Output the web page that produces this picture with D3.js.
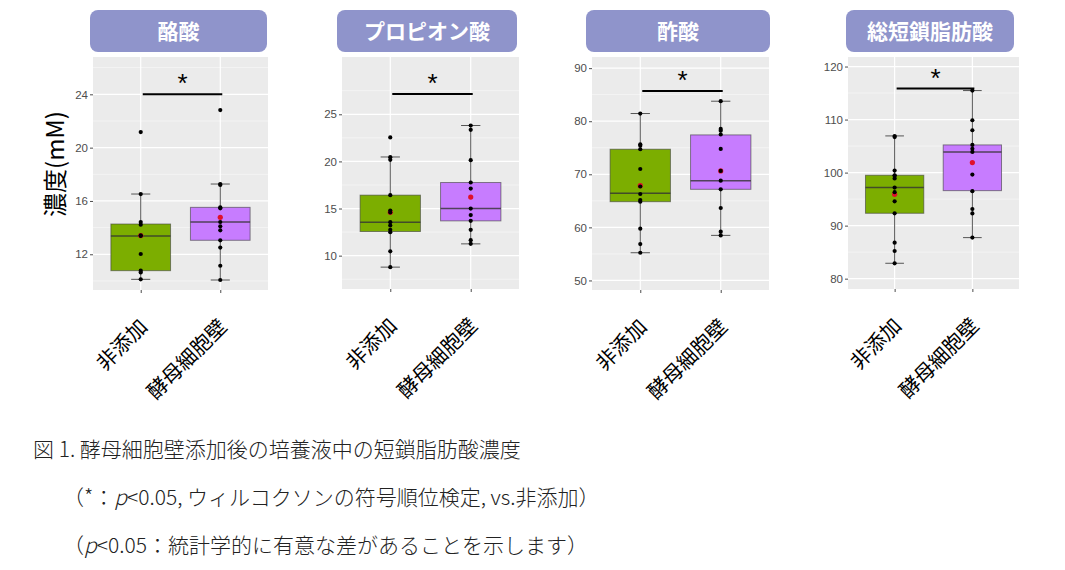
<!DOCTYPE html>
<html><head><meta charset="utf-8">
<script src="https://cdn.jsdelivr.net/npm/d3@7"></script>
<style>
body{margin:0;background:#fff;}
svg{display:block;}
</style></head>
<body>
<svg id="c" width="1065" height="570"></svg>
<script>
// ---- data ----
const titles = ["酪酸", "プロピオン酸", "酢酸", "総短鎖脂肪酸"];
const groups = ["非添加", "酵母細胞壁"];
// box stats: [lower whisker, Q1, median, Q3, upper whisker]
const butyricBox = [[10.12, 10.77, 13.37, 14.27, 16.52], [10.07, 13.05, 14.42, 15.52, 17.27]];
const butyricPts = [[21.17, 16.52, 14.42, 14.22, 13.42, 13.37, 12.02, 10.77, 10.64, 10.12],
                    [22.82, 17.27, 17.2, 15.52, 15.45, 14.42, 14.1, 13.8, 13.05, 12.5, 11.14, 10.07]];
const butyricMean = [13.4, 14.77];
const butyricTicks = [12, 16, 20, 24];
const butyricDomain = [9.32, 26.8];
const butyricSig = 24.0;

const propionicBox = [[8.78, 12.56, 13.55, 16.42, 20.47], [11.25, 13.69, 15.0, 17.76, 23.81]];
const propionicPts = [[22.54, 20.45, 20.17, 16.42, 14.79, 14.58, 13.55, 13.2, 12.74, 12.49, 10.46, 8.78],
                      [23.81, 23.35, 20.13, 17.76, 17.12, 15.0, 14.3, 13.69, 12.74, 11.64, 11.25]];
const propionicMean = [14.6, 16.21];
const propionicTicks = [10, 15, 20, 25];
const propionicDomain = [6.46, 31.08];
const propionicSig = 27.15;

const aceticBox = [[55.22, 64.84, 66.42, 74.72, 81.45], [58.49, 67.17, 68.8, 77.42, 83.77]];
const aceticPts = [[81.45, 75.66, 75.4, 74.72, 71.0, 67.7, 66.29, 65.16, 64.84, 59.75, 56.85, 55.22],
                   [83.77, 78.55, 78.2, 77.5, 74.78, 70.63, 68.8, 67.17, 63.65, 59.18, 58.49]];
const aceticMean = [67.86, 70.63];
const aceticTicks = [50, 60, 70, 80, 90];
const aceticDomain = [48.2, 92.1];
const aceticSig = 85.7;

const totalBox = [[82.9, 92.33, 97.17, 99.5, 106.92], [87.74, 96.6, 103.9, 105.22, 115.47]];
const totalPts = [[106.9, 106.7, 100.38, 99.5, 99.4, 98.9, 97.17, 96.3, 94.59, 92.33, 86.79, 85.22, 82.9],
                  [115.47, 109.87, 107.99, 105.22, 104.5, 103.9, 99.62, 96.5, 93.14, 92.3, 87.74]];
const totalMean = [95.9, 101.89];
const totalTicks = [80, 90, 100, 110, 120];
const totalDomain = [78.05, 121.8];
const totalSig = 115.85;

const yLabel = "濃度(mM)";
const captionLines = [
  [{t: "図 1. 酵母細胞壁添加後の培養液中の短鎖脂肪酸濃度"}],
  [{t: "（*：", i: false}, {t: "p", i: true}, {t: "<0.05,  ウィルコクソンの符号順位検定, vs.非添加）"}],
  [{t: "（", i: false}, {t: "p", i: true}, {t: "<0.05：統計学的に有意な差があることを示します）"}]
];

// ---- layout ----
const datasets = [
  {box: butyricBox, pts: butyricPts, mean: butyricMean, ticks: butyricTicks, domain: butyricDomain, sig: butyricSig},
  {box: propionicBox, pts: propionicPts, mean: propionicMean, ticks: propionicTicks, domain: propionicDomain, sig: propionicSig},
  {box: aceticBox, pts: aceticPts, mean: aceticMean, ticks: aceticTicks, domain: aceticDomain, sig: aceticSig},
  {box: totalBox, pts: totalPts, mean: totalMean, ticks: totalTicks, domain: totalDomain, sig: totalSig}
];
const plotRects = [
  {x0: 93, x1: 268, y0: 57, y1: 290},
  {x0: 342, x1: 519, y0: 57, y1: 289},
  {x0: 592, x1: 769, y0: 57, y1: 290},
  {x0: 848, x1: 1019, y0: 57, y1: 289}
];
const titleRects = [
  {x0: 90, x1: 267}, {x0: 337, x1: 517}, {x0: 586, x1: 770}, {x0: 846, x1: 1014}
];
const fills = ["#7CAE00", "#C77CFF"];
const JP = "'Noto Sans CJK JP', 'Noto Sans', sans-serif";

const svg = d3.select("#c");

datasets.forEach((d, k) => {
  const r = plotRects[k];
  const g = svg.append("g");
  const x = d3.scalePoint().domain(groups).range([r.x0, r.x1]).padding(0.6);
  const y = d3.scaleLinear().domain(d.domain).range([r.y1, r.y0]);
  const step = x.step();

  // title box
  const tr = titleRects[k];
  g.append("rect").attr("x", tr.x0).attr("y", 10).attr("width", tr.x1 - tr.x0).attr("height", 42)
    .attr("rx", 8).attr("fill", "#8F94CB");
  g.append("text").attr("x", (tr.x0 + tr.x1) / 2).attr("y", 39).attr("text-anchor", "middle")
    .attr("font-family", JP).attr("font-weight", 700).attr("font-size", 21).attr("fill", "#fff")
    .text(titles[k]);

  // panel background
  g.append("rect").attr("x", r.x0).attr("y", r.y0).attr("width", r.x1 - r.x0).attr("height", r.y1 - r.y0)
    .attr("fill", "#EBEBEB");

  // minor grid
  const tstep = d.ticks[1] - d.ticks[0];
  const minor = [];
  for (let v = d.ticks[0] - tstep / 2; v <= d.domain[1]; v += tstep) {
    if (v >= d.domain[0]) minor.push(v);
  }
  g.selectAll(".mn").data(minor).join("line")
    .attr("x1", r.x0).attr("x2", r.x1).attr("y1", v => y(v)).attr("y2", v => y(v))
    .attr("stroke", "#fff").attr("stroke-width", 0.6).attr("opacity", 0.8);
  // major grid
  g.selectAll(".mj").data(d.ticks).join("line")
    .attr("x1", r.x0).attr("x2", r.x1).attr("y1", v => y(v)).attr("y2", v => y(v))
    .attr("stroke", "#fff").attr("stroke-width", 1.2);
  g.selectAll(".vg").data(groups).join("line")
    .attr("x1", c => x(c)).attr("x2", c => x(c)).attr("y1", r.y0).attr("y2", r.y1)
    .attr("stroke", "#fff").attr("stroke-width", 1.2);

  // y axis
  const ya = d3.axisLeft(y).tickValues(d.ticks).tickSize(3).tickPadding(2);
  const yg = g.append("g").attr("transform", `translate(${r.x0},0)`).call(ya);
  yg.select(".domain").remove();
  yg.selectAll(".tick line").attr("stroke", "#4D4D4D");
  yg.selectAll(".tick text").attr("fill", "#4D4D4D").attr("font-size", 11.5)
    .attr("font-family", "'Liberation Sans', Arial, sans-serif");

  // x axis ticks
  const xa = d3.axisBottom(x).tickSize(3).tickFormat("");
  const xg = g.append("g").attr("transform", `translate(0,${r.y1})`).call(xa);
  xg.select(".domain").remove();
  xg.selectAll(".tick line").attr("stroke", "#4D4D4D");

  // x labels rotated
  g.selectAll(".xl").data(groups).join("text")
    .attr("transform", c => `translate(${x(c) + 8},${r.y1 + 38}) rotate(-45)`)
    .attr("text-anchor", "end").attr("font-family", JP).attr("font-size", 20.5).attr("fill", "#000")
    .text(c => c);

  // boxes
  const bw = step * 0.75, cw = step * 0.24;
  groups.forEach((c, i) => {
    const b = d.box[i];
    const cx = x(c);
    // whisker
    g.append("line").attr("x1", cx).attr("x2", cx).attr("y1", y(b[0])).attr("y2", y(b[4]))
      .attr("stroke", "#555").attr("stroke-width", 1);
    g.append("line").attr("x1", cx - cw / 2).attr("x2", cx + cw / 2).attr("y1", y(b[0])).attr("y2", y(b[0]))
      .attr("stroke", "#555").attr("stroke-width", 1);
    g.append("line").attr("x1", cx - cw / 2).attr("x2", cx + cw / 2).attr("y1", y(b[4])).attr("y2", y(b[4]))
      .attr("stroke", "#555").attr("stroke-width", 1);
    g.append("rect").attr("x", cx - bw / 2).attr("y", y(b[3])).attr("width", bw).attr("height", y(b[1]) - y(b[3]))
      .attr("fill", fills[i]).attr("stroke", "#3d3d3d").attr("stroke-opacity", 0.6).attr("stroke-width", 1);
    g.append("line").attr("x1", cx - bw / 2).attr("x2", cx + bw / 2).attr("y1", y(b[2])).attr("y2", y(b[2]))
      .attr("stroke", "#333").attr("stroke-opacity", 0.8).attr("stroke-width", 1.5);
    // mean point
    g.append("circle").attr("cx", cx).attr("cy", y(d.mean[i])).attr("r", 2.6).attr("fill", "#E0102A");
    // data points
    g.selectAll(null).data(d.pts[i]).join("circle")
      .attr("cx", cx).attr("cy", v => y(v)).attr("r", 2.1).attr("fill", "#000");
  });

  // significance bracket
  g.append("line").attr("x1", x(groups[0]) + 2).attr("x2", x(groups[1]) + 2)
    .attr("y1", y(d.sig)).attr("y2", y(d.sig)).attr("stroke", "#000").attr("stroke-width", 2);
  g.append("text").attr("x", (x(groups[0]) + x(groups[1])) / 2 + 2).attr("y", y(d.sig) - 2)
    .attr("text-anchor", "middle").attr("font-family", "'Liberation Sans', Arial, sans-serif")
    .attr("font-size", 26).attr("fill", "#000").text("*");
});

// y label
svg.append("text").attr("transform", "translate(64,164) rotate(-90)").attr("text-anchor", "middle")
  .attr("font-family", JP).attr("font-size", 24).attr("fill", "#000").text(yLabel);

// caption
const capX = [33, 63, 63], capY = [457, 505, 553];
captionLines.forEach((line, i) => {
  const t = svg.append("text").attr("x", capX[i]).attr("y", capY[i])
    .attr("font-family", JP).attr("font-size", 21).attr("fill", "#222").attr("font-weight", 300);
  line.forEach(s => {
    t.append("tspan").attr("font-style", s.i ? "italic" : "normal").text(s.t);
  });
});
</script>
</body></html>
